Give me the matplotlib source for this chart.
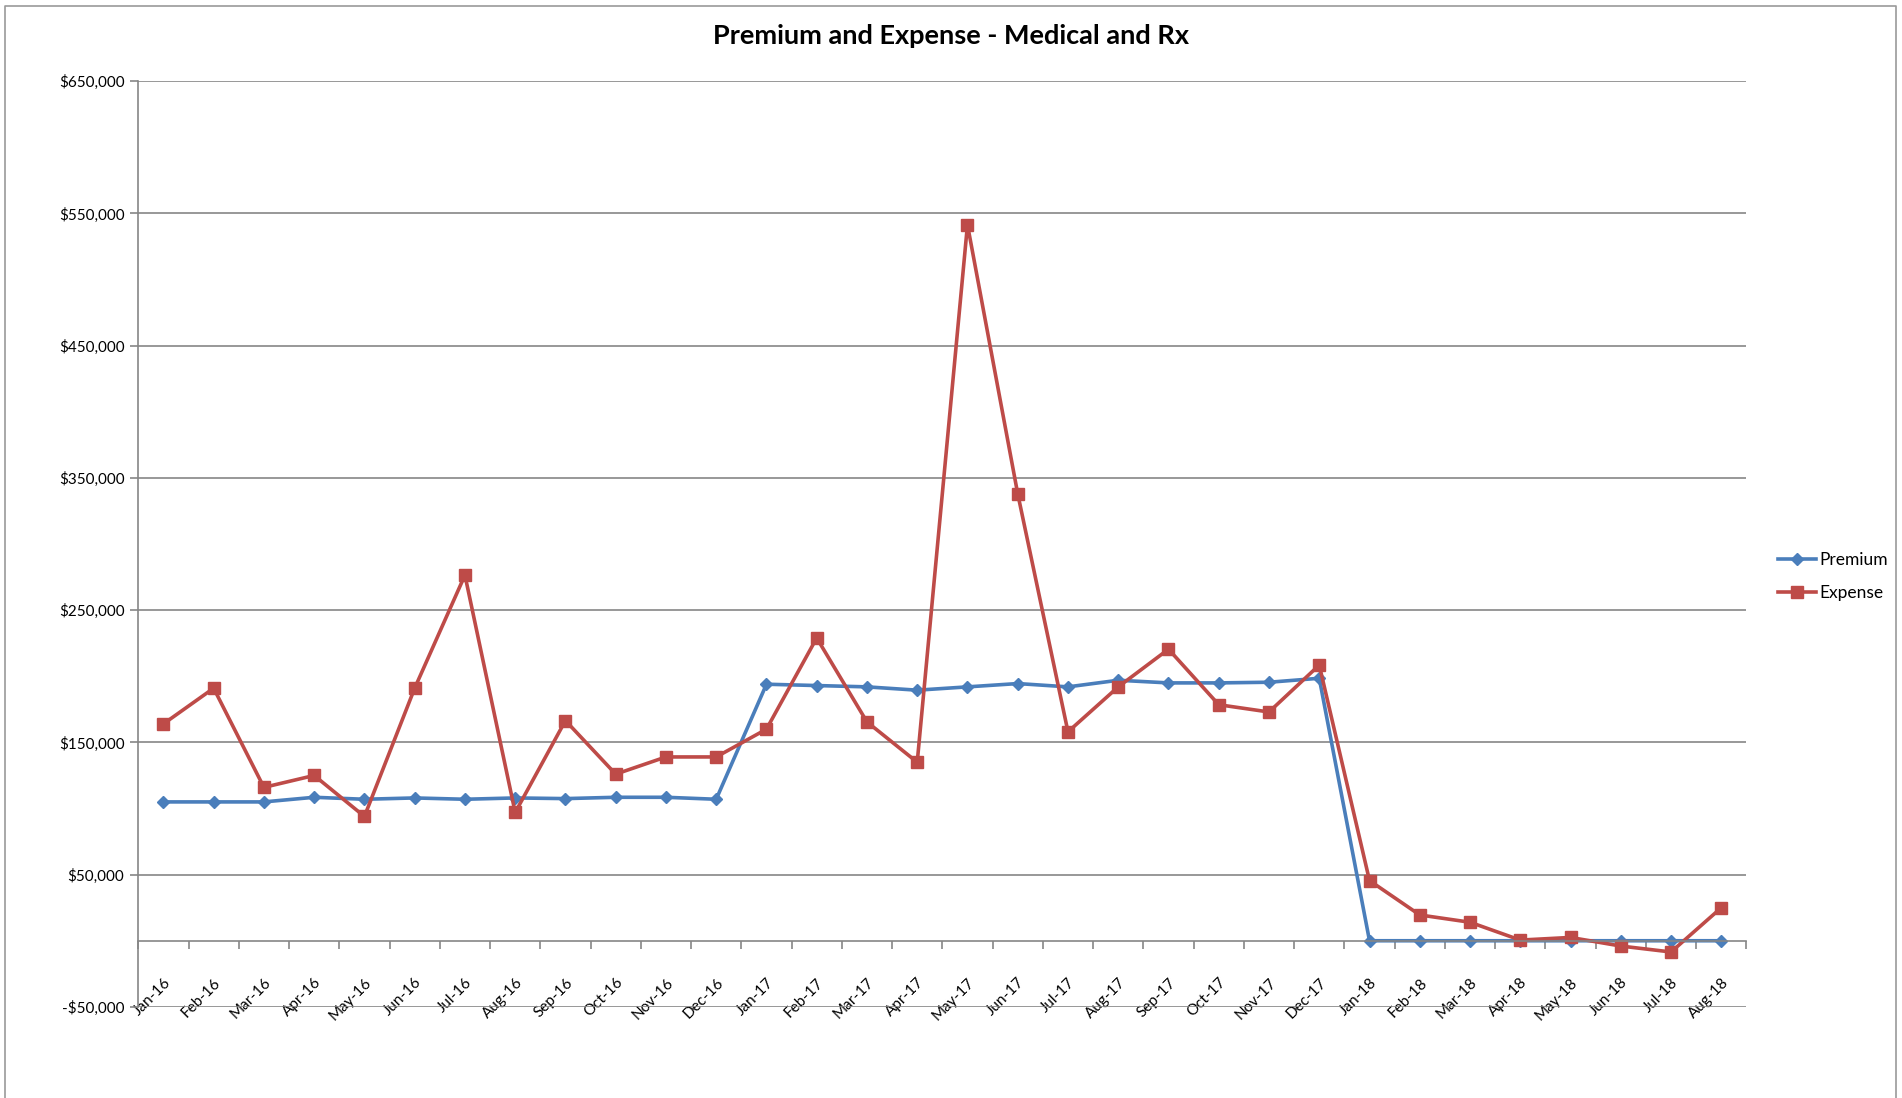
import numpy as np
import matplotlib.pyplot as plt
from matplotlib.ticker import FuncFormatter, FixedLocator

plt.rcParams['font.family'] = ['Lato', 'DejaVu Sans']

# months Jan-16 .. Aug-18
months = ['Jan-16', 'Feb-16', 'Mar-16', 'Apr-16', 'May-16', 'Jun-16', 'Jul-16', 'Aug-16',
          'Sep-16', 'Oct-16', 'Nov-16', 'Dec-16', 'Jan-17', 'Feb-17', 'Mar-17', 'Apr-17',
          'May-17', 'Jun-17', 'Jul-17', 'Aug-17', 'Sep-17', 'Oct-17', 'Nov-17', 'Dec-17',
          'Jan-18', 'Feb-18', 'Mar-18', 'Apr-18', 'May-18', 'Jun-18', 'Jul-18', 'Aug-18']

premium = [105000, 105000, 105000, 108500, 107000, 108000, 107000, 108000,
           107500, 108500, 108500, 107000, 194000, 193000, 192000, 189500,
           192000, 194500, 192000, 197000, 195000, 195000, 195500, 198500,
           0, 0, 0, 0, 0, 0, 0, 0]

expense = [164000, 191000, 116000, 125000, 94000, 191000, 276500, 97000,
           166500, 126000, 139000, 139000, 160000, 229000, 165500, 135000,
           541500, 338000, 158000, 192000, 220500, 178500, 173000, 208500,
           45500, 19500, 14000, 500, 2500, -4000, -8500, 25000]

yticks = [-50000, 50000, 150000, 250000, 350000, 450000, 550000, 650000]

fig = plt.figure(figsize=(19.02, 10.98), dpi=100)
ax = fig.add_axes([0.0727, 0.083, 0.8455, 0.843])

x = np.arange(len(months))
ax.plot(x, premium, color='#4a7ebb', lw=2.6, marker='D', ms=6.5, label='Premium')
ax.plot(x, expense, color='#be4b48', lw=2.6, marker='s', ms=8.5, label='Expense')

ax.set_xlim(-0.5, len(months) - 0.5)
ax.set_ylim(-50000, 650000)
ax.yaxis.set_major_locator(FixedLocator(yticks))
ax.yaxis.set_major_formatter(FuncFormatter(lambda v, p: f'-${abs(v):,.0f}' if v < 0 else f'${v:,.0f}'))
ax.grid(axis='y', color='#868686', lw=1.2)
ax.set_axisbelow(True)

# category axis sits at zero, Excel style
ax.spines['bottom'].set_position(('data', 0))
ax.spines['bottom'].set_color('#868686')
ax.spines['bottom'].set_linewidth(1.2)
ax.spines['left'].set_color('#868686')
ax.spines['left'].set_linewidth(1.2)
ax.spines['top'].set_visible(False)
ax.spines['right'].set_visible(False)

ax.set_xticks(x)
ax.set_xticklabels(months, rotation=45, ha='right', rotation_mode='anchor', fontsize=11)
ax.set_xticks(np.arange(len(months) + 1) - 0.5, minor=True)
ax.tick_params(axis='x', which='major', length=0, pad=25)
ax.tick_params(axis='x', which='minor', length=6, color='#868686', width=1.2)
ax.tick_params(axis='y', length=6, color='#868686', width=1.2, labelsize=11, pad=4)

fig.suptitle('Premium and Expense - Medical and Rx', x=0.5, y=0.967, fontsize=19.5,
             fontweight='bold', va='center')

ax.legend(loc='center left', bbox_to_anchor=(1.01, 0.465), frameon=False, fontsize=12.5,
          handlelength=2.2, handletextpad=0.2, labelspacing=1.0)

# chart area border
fig.add_artist(plt.Line2D([0.0026, 0.0026, 0.9968, 0.9968], [0.0, 0.9945, 0.9945, 0.0],
                          transform=fig.transFigure, color='#9a9a9a', lw=1.2))

plt.savefig('out.png', dpi=100)
